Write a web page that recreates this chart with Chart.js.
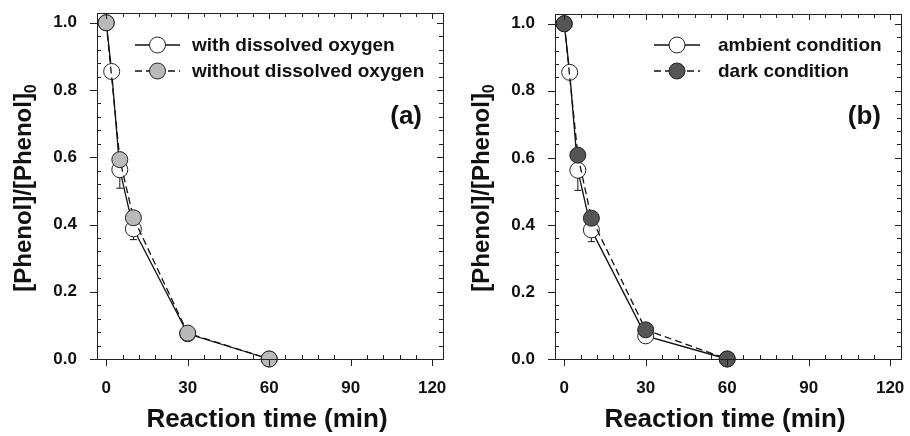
<!DOCTYPE html>
<html>
<head>
  <script src="https://cdn.jsdelivr.net/npm/chart.js"></script>
  <style>
    body { margin: 0; background: #fff; }
    #wrap { display: flex; width: 910px; height: 436px; }
    canvas { display: block; }
  </style>
</head>
<body>
<div id="wrap">
  <canvas id="chartA" width="455" height="436"></canvas>
  <canvas id="chartB" width="455" height="436"></canvas>
</div>
<script>
// data
const timeOpen = [0, 2, 5, 10, 30, 60];
const timeFilled = [0, 5, 10, 30, 60];

const withO2 = [1.0, 0.855, 0.563, 0.387, 0.075, 0.0];
const withO2Err = [0, 0, 0.055, 0.032, 0, 0];
const withoutO2 = [1.0, 0.593, 0.420, 0.077, 0.0];

const ambient = [1.0, 0.855, 0.563, 0.385, 0.069, 0.0];
const ambientErr = [0, 0, 0.06, 0.035, 0, 0];
const dark = [1.0, 0.608, 0.420, 0.087, 0.0];

const xTicks = [0, 30, 60, 90, 120];
const yTicks = [0, 0.2, 0.4, 0.6, 0.8, 1.0];

const FONT = '"Liberation Sans", Arial, sans-serif';

function pts(xs, ys) {
  return xs.map((x, i) => ({ x: x, y: ys[i] }));
}

// frame, ticks, labels, legend, error bars
const decor = {
  id: 'decor',
  beforeDatasetsDraw(chart) {
    const o = chart.options.plugins.decor;
    const ctx = chart.ctx;
    const xs = chart.scales.x, ys = chart.scales.y;
    ctx.save();
    ctx.strokeStyle = '#111';
    ctx.lineWidth = 1;
    o.err.forEach((e, i) => {
      if (!e) return;
      const px = xs.getPixelForValue(o.errX[i]);
      const y0 = ys.getPixelForValue(o.errY[i]);
      const y1 = ys.getPixelForValue(o.errY[i] - e);
      ctx.beginPath();
      ctx.moveTo(px, y0); ctx.lineTo(px, y1);
      ctx.moveTo(px - 3.5, y1); ctx.lineTo(px + 3.5, y1);
      ctx.stroke();
    });
    ctx.restore();
  },
  afterDraw(chart) {
    const o = chart.options.plugins.decor;
    const ctx = chart.ctx;
    const a = chart.chartArea;
    const xs = chart.scales.x, ys = chart.scales.y;
    ctx.save();
    ctx.strokeStyle = '#222';
    ctx.lineWidth = 1;
    ctx.strokeRect(Math.round(a.left) + 0.5, Math.round(a.top) + 0.5,
      Math.round(a.right - a.left), Math.round(a.bottom - a.top));

    ctx.beginPath();
    // x ticks every 6 min
    for (let v = 0; v <= 120; v += 6) {
      const px = Math.round(xs.getPixelForValue(v)) + 0.5;
      const major = v % 30 === 0;
      if (major) {
        ctx.moveTo(px, a.bottom); ctx.lineTo(px, a.bottom + 7);
        ctx.moveTo(px, a.top); ctx.lineTo(px, a.top + 6);
      } else {
        ctx.moveTo(px, a.bottom); ctx.lineTo(px, a.bottom - 4);
        ctx.moveTo(px, a.top); ctx.lineTo(px, a.top + 4);
      }
    }
    // y ticks every 0.04
    for (let k = 0; k <= 25; k++) {
      const v = k * 0.04;
      const py = Math.round(ys.getPixelForValue(v)) + 0.5;
      const major = k % 5 === 0;
      if (major) {
        ctx.moveTo(a.left, py); ctx.lineTo(a.left - 7, py);
        ctx.moveTo(a.right, py); ctx.lineTo(a.right - 6, py);
      } else {
        ctx.moveTo(a.left, py); ctx.lineTo(a.left + 4, py);
        ctx.moveTo(a.right, py); ctx.lineTo(a.right - 4, py);
      }
    }
    ctx.stroke();

    ctx.fillStyle = '#111';
    ctx.font = 'bold 17px ' + FONT;
    ctx.textAlign = 'center';
    ctx.textBaseline = 'middle';
    xTicks.forEach(v => ctx.fillText(String(v), xs.getPixelForValue(v), 388));
    ctx.textAlign = 'right';
    yTicks.forEach(v => ctx.fillText(v.toFixed(1), a.left - 20, ys.getPixelForValue(v)));

    // axis titles
    ctx.font = 'bold 26px ' + FONT;
    ctx.textAlign = 'center';
    ctx.fillText('Reaction time (min)', (a.left + a.right) / 2 - 3, 420);

    ctx.save();
    ctx.translate(o.yTitleX, 188);
    ctx.rotate(-Math.PI / 2);
    const main = '[Phenol]/[Phenol]';
    ctx.font = 'bold 24px ' + FONT;
    const w1 = ctx.measureText(main).width;
    ctx.font = 'bold 16px ' + FONT;
    const w2 = ctx.measureText('0').width;
    const start = -(w1 + w2) / 2;
    ctx.textAlign = 'left';
    ctx.font = 'bold 24px ' + FONT;
    ctx.fillText(main, start, 0);
    ctx.font = 'bold 16px ' + FONT;
    ctx.fillText('0', start + w1, 8);
    ctx.restore();

    // panel label
    ctx.font = 'bold 26px ' + FONT;
    ctx.textAlign = 'right';
    ctx.fillText(o.tag, o.tagX, 117);

    // legend
    const lg = o.legend;
    ctx.font = 'bold 19px ' + FONT;
    ctx.textAlign = 'left';
    lg.items.forEach((it, i) => {
      const y = lg.y + i * 26;
      ctx.strokeStyle = '#111';
      ctx.lineWidth = 1.3;
      ctx.setLineDash(it.dash ? [7, 4] : []);
      ctx.beginPath();
      ctx.moveTo(lg.x0, y); ctx.lineTo(lg.x1, y);
      ctx.stroke();
      ctx.setLineDash([]);
      ctx.beginPath();
      ctx.arc((lg.x0 + lg.x1) / 2, y, 8, 0, Math.PI * 2);
      ctx.fillStyle = it.fill;
      ctx.fill();
      ctx.lineWidth = 1;
      ctx.strokeStyle = '#222';
      ctx.stroke();
      ctx.fillStyle = '#111';
      ctx.fillText(it.label, lg.tx, y + 1);
    });
    ctx.restore();
  }
};

function makeChart(id, pad, series, decorOpts) {
  return new Chart(document.getElementById(id), {
    type: 'scatter',
    data: {
      datasets: series.map(s => ({
        data: s.data,
        showLine: true,
        borderColor: '#111',
        borderWidth: 1.3,
        borderDash: s.dash ? [7, 4] : [],
        pointRadius: 8,
        pointBackgroundColor: s.fill,
        pointBorderColor: '#222',
        pointBorderWidth: 1,
        clip: false
      }))
    },
    options: {
      responsive: false,
      devicePixelRatio: 1,
      animation: false,
      layout: { padding: pad, autoPadding: false },
      scales: {
        x: { type: 'linear', min: -3.4, max: 124, display: false },
        y: { type: 'linear', min: 0, max: 1.029, display: false }
      },
      plugins: {
        legend: { display: false },
        tooltip: { enabled: false },
        decor: decorOpts
      }
    },
    plugins: [decor]
  });
}

makeChart('chartA', { left: 97, top: 13, right: 12, bottom: 77 }, [
  { data: pts(timeFilled, withoutO2), fill: '#b9b9b9', dash: true },
  { data: pts(timeOpen, withO2), fill: '#ffffff', dash: false }
], {
  tag: '(a)', tagX: 422, yTitleX: 24,
  err: withO2Err, errX: timeOpen, errY: withO2,
  legend: {
    x0: 135, x1: 180, tx: 192, y: 45,
    items: [
      { label: 'with dissolved oxygen', fill: '#ffffff', dash: false },
      { label: 'without dissolved oxygen', fill: '#b9b9b9', dash: true }
    ]
  }
});

makeChart('chartB', { left: 100, top: 14, right: 9, bottom: 77 }, [
  { data: pts(timeFilled, dark), fill: '#555555', dash: true },
  { data: pts(timeOpen, ambient), fill: '#ffffff', dash: false }
], {
  tag: '(b)', tagX: 426, yTitleX: 27,
  err: ambientErr, errX: timeOpen, errY: ambient,
  legend: {
    x0: 199, x1: 245, tx: 263, y: 45,
    items: [
      { label: 'ambient condition', fill: '#ffffff', dash: false },
      { label: 'dark condition', fill: '#555555', dash: true }
    ]
  }
});
</script>
</body>
</html>
